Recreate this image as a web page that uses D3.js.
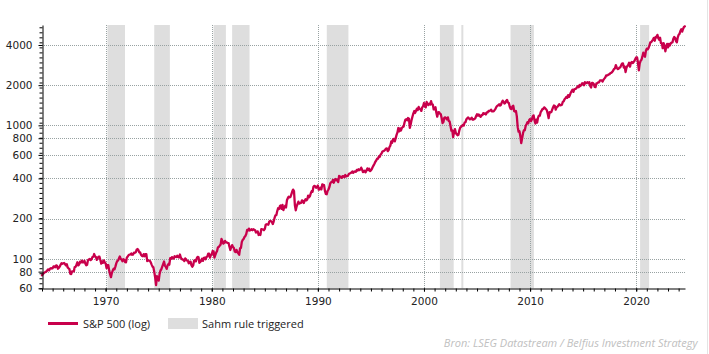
<!DOCTYPE html>
<html>
<head>
<meta charset="utf-8">
<script src="https://cdn.jsdelivr.net/npm/d3@7"></script>
<style>
  body { margin: 0; background: #fff; }
  svg { display: block; }
</style>
</head>
<body>
<svg id="chart"></svg>
<script>
// S&P 500 month-end closes (Dec 1963 first, then Jan 1964 .. Jul 2024)
const sp1960s = [75.0,
  77.0, 77.8, 79.0, 79.5, 80.4, 81.7, 83.2, 81.8, 84.2, 84.9, 84.4, 84.8,
  87.6, 87.4, 86.2, 89.1, 88.4, 84.1, 85.3, 87.2, 90.0, 92.4, 91.6, 92.4,
  92.9, 91.2, 89.2, 91.1, 86.1, 84.7, 83.6, 77.1, 76.6, 80.2, 80.5, 80.3,
  86.6, 86.8, 90.2, 94.0, 89.1, 90.6, 94.8, 93.6, 96.7, 93.9, 94.0, 96.5,
  92.2, 89.4, 90.2, 97.6, 98.7, 99.6, 97.7, 98.9, 102.7, 103.4, 108.4, 103.9,
  103.0, 98.1, 101.5, 103.7, 103.5, 97.7, 91.8, 95.5, 93.1, 97.2, 93.8, 92.1];
const sp1970s = [
  85.0, 89.5, 89.6, 81.5, 76.6, 72.7, 78.1, 81.5, 84.2, 83.3, 87.2, 92.2,
  95.9, 96.8, 100.3, 104.0, 99.6, 98.7, 95.6, 99.0, 98.3, 94.2, 94.0, 102.1,
  103.9, 106.6, 107.2, 107.7, 109.5, 107.1, 107.4, 111.1, 110.6, 111.6, 116.7, 118.1,
  116.0, 111.7, 111.5, 107.0, 105.0, 104.3, 108.2, 104.3, 108.4, 108.3, 96.0, 97.6,
  96.6, 96.2, 94.0, 90.3, 87.3, 86.0, 79.3, 72.2, 63.5, 73.9, 70.0, 68.6,
  77.0, 81.6, 83.4, 87.3, 91.2, 95.2, 88.8, 86.9, 83.9, 89.0, 91.2, 90.2,
  100.9, 99.7, 102.8, 101.6, 100.2, 104.3, 103.4, 102.9, 105.2, 102.9, 102.1, 107.5,
  102.0, 99.8, 98.4, 98.4, 96.1, 100.5, 98.9, 96.8, 96.5, 92.3, 94.8, 95.1,
  89.3, 87.0, 89.2, 96.8, 97.2, 95.5, 100.7, 103.3, 102.5, 93.2, 94.7, 96.1,
  99.9, 96.3, 101.6, 101.8, 99.1, 102.9, 103.8, 109.3, 109.3, 101.8, 106.2, 107.9];
const sp1980s = [
  114.2, 113.7, 102.1, 106.3, 111.2, 114.2, 121.7, 122.4, 125.5, 127.5, 140.5, 135.8,
  129.6, 131.3, 136.0, 132.8, 132.6, 131.2, 130.9, 122.8, 116.2, 121.9, 126.4, 122.6,
  120.4, 113.1, 112.0, 116.4, 111.9, 109.6, 107.1, 119.5, 120.4, 133.7, 138.5, 140.6,
  145.3, 148.1, 153.0, 164.4, 162.4, 168.1, 162.6, 164.4, 166.1, 163.6, 166.4, 164.9,
  163.4, 157.1, 159.2, 160.1, 150.6, 153.2, 150.7, 166.7, 166.1, 166.1, 163.6, 167.2,
  179.6, 181.2, 180.7, 179.8, 189.6, 191.9, 190.9, 188.6, 182.1, 189.8, 202.2, 211.3,
  211.8, 226.9, 238.9, 235.5, 247.4, 250.8, 236.1, 252.9, 231.3, 244.0, 249.2, 242.2,
  274.1, 284.2, 291.7, 288.4, 290.1, 304.0, 318.7, 329.8, 321.8, 251.8, 230.3, 247.1,
  257.1, 267.8, 258.9, 261.3, 262.2, 273.5, 272.0, 261.5, 271.9, 279.0, 273.7, 277.7,
  297.5, 288.9, 294.9, 309.6, 320.5, 318.0, 346.1, 351.5, 349.2, 340.4, 346.0, 353.4];
const sp1990s = [
  329.1, 331.9, 339.9, 330.8, 361.2, 358.0, 356.2, 322.6, 306.1, 304.0, 322.2, 330.2,
  343.9, 367.1, 375.2, 375.4, 389.8, 371.2, 387.8, 395.4, 387.9, 392.5, 375.2, 417.1,
  408.8, 412.7, 403.7, 415.0, 415.4, 408.1, 424.2, 414.0, 417.8, 418.7, 431.4, 435.7,
  438.8, 443.4, 451.7, 440.2, 450.2, 450.5, 448.1, 463.6, 458.9, 467.8, 461.8, 466.5,
  481.6, 467.1, 445.8, 450.9, 456.5, 444.3, 458.3, 475.5, 462.7, 472.4, 453.7, 459.3,
  470.4, 487.4, 500.7, 514.7, 533.4, 544.8, 562.1, 561.9, 584.4, 581.5, 605.4, 615.9,
  636.0, 640.4, 645.5, 654.2, 669.1, 670.6, 640.0, 652.0, 687.3, 705.3, 757.0, 740.7,
  786.2, 790.8, 757.1, 801.3, 848.3, 885.1, 954.3, 899.5, 947.3, 914.6, 955.4, 970.4,
  980.3, 1049.3, 1101.8, 1111.8, 1090.8, 1133.8, 1120.7, 957.3, 1017.0, 1098.7, 1163.6, 1229.2,
  1279.6, 1238.3, 1286.4, 1335.2, 1301.8, 1372.7, 1328.7, 1320.4, 1282.7, 1362.9, 1388.9, 1469.3];
const sp2000s = [
  1394.5, 1366.4, 1498.6, 1452.4, 1420.6, 1454.6, 1430.8, 1517.7, 1436.5, 1429.4, 1315.0, 1320.3,
  1366.0, 1239.9, 1160.3, 1249.5, 1255.8, 1224.4, 1211.2, 1133.6, 1040.9, 1059.8, 1139.5, 1148.1,
  1130.2, 1106.7, 1147.4, 1076.9, 1067.1, 989.8, 911.6, 916.1, 815.3, 885.8, 936.3, 879.8,
  855.7, 841.2, 848.2, 916.9, 963.6, 974.5, 990.3, 1008.0, 996.0, 1050.7, 1058.2, 1111.9,
  1131.1, 1144.9, 1126.2, 1107.3, 1120.7, 1140.8, 1101.7, 1104.2, 1114.6, 1130.2, 1173.8, 1211.9,
  1181.3, 1203.6, 1180.6, 1156.9, 1191.5, 1191.3, 1234.2, 1220.3, 1228.8, 1207.0, 1249.5, 1248.3,
  1280.1, 1280.7, 1294.8, 1310.6, 1270.1, 1270.2, 1276.7, 1303.8, 1335.9, 1377.9, 1400.6, 1418.3,
  1438.2, 1406.8, 1420.9, 1482.4, 1530.6, 1503.4, 1455.3, 1474.0, 1526.8, 1549.4, 1481.1, 1468.4,
  1378.6, 1330.6, 1322.7, 1385.6, 1400.4, 1280.0, 1267.4, 1282.8, 1166.4, 968.8, 896.2, 903.3,
  825.9, 735.1, 797.9, 872.8, 919.1, 919.3, 987.5, 1020.6, 1057.1, 1036.2, 1095.6, 1115.1];
const sp2010s = [
  1073.9, 1104.5, 1169.4, 1186.7, 1089.4, 1030.7, 1101.6, 1049.3, 1141.2, 1183.3, 1180.6, 1257.6,
  1286.1, 1327.2, 1325.8, 1363.6, 1345.2, 1320.6, 1292.3, 1218.9, 1131.4, 1253.3, 1247.0, 1257.6,
  1312.4, 1365.7, 1408.5, 1397.9, 1310.3, 1362.2, 1379.3, 1406.6, 1440.7, 1412.2, 1416.2, 1426.2,
  1498.1, 1514.7, 1569.2, 1597.6, 1630.7, 1606.3, 1685.7, 1633.0, 1681.6, 1756.5, 1805.8, 1848.4,
  1782.6, 1859.5, 1872.3, 1884.0, 1923.6, 1960.2, 1930.7, 2003.4, 1972.3, 2018.1, 2067.6, 2058.9,
  1995.0, 2104.5, 2067.9, 2085.5, 2107.4, 2063.1, 2103.8, 1972.2, 1920.0, 2079.4, 2080.4, 2043.9,
  1940.2, 1932.2, 2059.7, 2065.3, 2097.0, 2098.9, 2173.6, 2171.0, 2168.3, 2126.2, 2198.8, 2238.8,
  2278.9, 2363.6, 2362.7, 2384.2, 2411.8, 2423.4, 2470.3, 2471.7, 2519.4, 2575.3, 2647.6, 2673.6,
  2823.8, 2713.8, 2640.9, 2648.1, 2705.3, 2718.4, 2816.3, 2901.5, 2914.0, 2711.7, 2760.2, 2506.9,
  2704.1, 2784.5, 2834.4, 2945.8, 2752.1, 2941.8, 2980.4, 2926.5, 2976.7, 3037.6, 3141.0, 3230.8];
const sp2020s = [
  3225.5, 2954.2, 2584.6, 2912.4, 3044.3, 3100.3, 3271.1, 3500.3, 3363.0, 3270.0, 3621.6, 3756.1,
  3714.2, 3811.2, 3972.9, 4181.2, 4204.1, 4297.5, 4395.3, 4522.7, 4307.5, 4605.4, 4567.0, 4766.2,
  4515.6, 4373.9, 4530.4, 4131.9, 4132.2, 3785.4, 4130.3, 3955.0, 3585.6, 3872.0, 4080.1, 3839.5,
  4076.6, 3970.2, 4109.3, 4169.5, 4179.8, 4450.4, 4589.0, 4507.7, 4288.1, 4193.8, 4567.8, 4769.8,
  4845.7, 5096.3, 5254.4, 5035.7, 5277.5, 5460.5, 5522.3];

// periods where the Sahm rule was triggered (decimal years)
const sahmStart = [1970.17, 1974.58, 1980.17, 1981.92, 1990.84, 2001.50, 2003.52, 2008.16, 2020.37];
const sahmEnd   = [1971.82, 1976.05, 1981.33, 1983.56, 1992.88, 2002.80, 2003.71, 2010.36, 2021.22];

const yTickValues = [60, 80, 100, 200, 400, 600, 800, 1000, 2000, 4000];
const xTickYears = [1970, 1980, 1990, 2000, 2010, 2020];
const seriesLabel = "S&P 500 (log)";
const shadeLabel = "Sahm rule triggered";
const sourceText = "Bron: LSEG Datastream / Belfius Investment Strategy";

const dims = {
    width: 709, height: 354,
    left: 42, right: 685, top: 25, bottom: 288.3
};
const lineColor = "#c8004b";
const shadeColor = "#dedede";
const gridColor = "#98a2a2";

// one continuous monthly series
const closes = [].concat(sp1960s, sp1970s, sp1980s, sp1990s, sp2000s, sp2010s, sp2020s);
const series = closes.map((v, i) => [1964 + i / 12, v]);

const svg = d3.select("#chart")
    .attr("width", dims.width)
    .attr("height", dims.height)
    .style("font-family", "'DejaVu Sans', sans-serif");

let x = d3.scaleLinear()
    .domain([1964, 2024.6])
    .range([dims.left, dims.right]);

let y = d3.scaleLog()
    .domain([60, 5650])
    .range([dims.bottom, dims.top]);

// Sahm shading
svg.append("g")
    .selectAll("rect")
    .data(sahmStart.map((s, i) => [s, sahmEnd[i]]))
    .enter()
    .append("rect")
    .attr("x", d => x(d[0]))
    .attr("width", d => x(d[1]) - x(d[0]))
    .attr("y", dims.top)
    .attr("height", dims.bottom - dims.top)
    .attr("fill", shadeColor);

// dotted grid
let grid = svg.append("g")
    .attr("stroke", gridColor)
    .attr("stroke-width", 1)
    .attr("stroke-dasharray", "1,1");

grid.selectAll(".hgrid")
    .data(yTickValues.filter(v => v > 60))
    .enter()
    .append("line")
    .attr("x1", dims.left)
    .attr("x2", dims.right)
    .attr("y1", d => Math.round(y(d)) + 0.5)
    .attr("y2", d => Math.round(y(d)) + 0.5);

grid.selectAll(".vgrid")
    .data(xTickYears)
    .enter()
    .append("line")
    .attr("x1", d => Math.round(x(d)) + 0.5)
    .attr("x2", d => Math.round(x(d)) + 0.5)
    .attr("y1", dims.top)
    .attr("y2", dims.bottom);

// the index line
let line = d3.line()
    .x(d => x(d[0]))
    .y(d => y(d[1]));

svg.append("path")
    .datum(series)
    .attr("fill", "none")
    .attr("stroke", lineColor)
    .attr("stroke-width", 2.3)
    .attr("stroke-linejoin", "round")
    .attr("stroke-linecap", "round")
    .attr("d", line);

// y axis: minor ticks every eighth of a doubling, then labelled ticks
let minorY = d3.range(0, 53).map(k => 60 * Math.pow(2, k / 8)).filter(v => v <= 5650);

svg.append("g")
    .attr("transform", `translate(${dims.left + 0.5}, 0)`)
    .call(d3.axisLeft(y).tickValues(minorY).tickSize(3).tickSizeOuter(0).tickFormat(""))
    .call(g => g.select(".domain").attr("stroke", "#000"));

svg.append("g")
    .attr("transform", `translate(${dims.left + 0.5}, 0)`)
    .call(d3.axisLeft(y).tickValues(yTickValues).tickSize(4).tickPadding(6)
        .tickSizeOuter(0).tickFormat(d3.format("d")))
    .call(g => g.select(".domain").remove())
    .call(g => g.selectAll("text")
        .attr("fill", "#222")
        .style("font-size", "10.5px")
        .style("font-family", "'DejaVu Sans', sans-serif"));

// x axis: yearly ticks, decade labels
svg.append("g")
    .attr("transform", `translate(0, ${dims.bottom + 0.2})`)
    .call(d3.axisBottom(x).tickValues(d3.range(1964, 2025)).tickSize(3).tickSizeOuter(0).tickFormat(""))
    .call(g => g.select(".domain").attr("stroke", "#000"));

svg.append("g")
    .attr("transform", `translate(0, ${dims.bottom + 0.2})`)
    .call(d3.axisBottom(x).tickValues(xTickYears).tickSize(3).tickPadding(6)
        .tickSizeOuter(0).tickFormat(d3.format("d")))
    .call(g => g.select(".domain").remove())
    .call(g => g.selectAll("text")
        .attr("fill", "#222")
        .style("font-size", "10.5px")
        .style("font-family", "'DejaVu Sans', sans-serif"));

// legend
let legend = svg.append("g")
    .style("font-family", "'Open Sans', sans-serif")
    .style("font-size", "11px")
    .attr("fill", "#222");

legend.append("line")
    .attr("x1", 48).attr("x2", 78)
    .attr("y1", 323.5).attr("y2", 323.5)
    .attr("stroke", lineColor)
    .attr("stroke-width", 3);

legend.append("text")
    .attr("x", 83).attr("y", 327.5)
    .text(seriesLabel);

legend.append("rect")
    .attr("x", 168).attr("y", 318)
    .attr("width", 30).attr("height", 11)
    .attr("fill", shadeColor);

legend.append("text")
    .attr("x", 202).attr("y", 327.5)
    .text(shadeLabel);

// source
svg.append("text")
    .attr("x", 697.5)
    .attr("y", 347)
    .attr("text-anchor", "end")
    .style("font-family", "'Open Sans', sans-serif")
    .style("font-size", "11px")
    .style("font-style", "italic")
    .attr("fill", "#c0c0c0")
    .text(sourceText);

// thin frame edge on the right
svg.append("line")
    .attr("x1", 707.5).attr("x2", 707.5)
    .attr("y1", 0).attr("y2", dims.height)
    .attr("stroke", "#e4e4e4");
</script>
</body>
</html>
